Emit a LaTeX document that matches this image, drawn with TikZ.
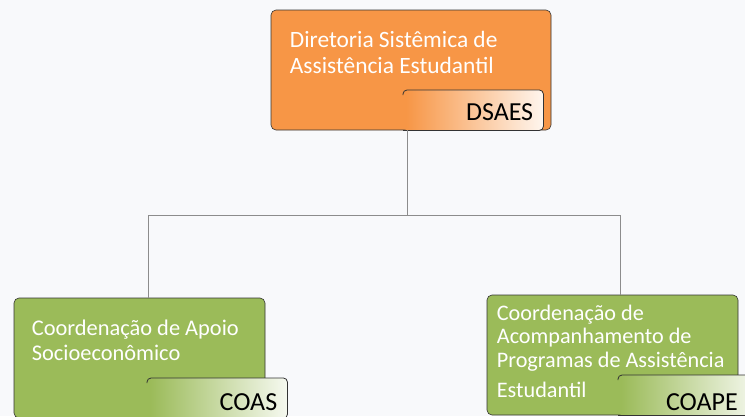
\documentclass[tikz,border=0pt]{standalone}
\usepackage{fontspec}
\setmainfont{Carlito}
\usetikzlibrary{positioning}

\definecolor{bgpaper}{HTML}{F8F9FB}
\definecolor{dsaesorange}{HTML}{F79646}
\definecolor{coordgreen}{HTML}{9BBB59}
\definecolor{linkgrey}{HTML}{8C8C8C}

% gradients of the code tags
\pgfdeclarehorizontalshading{orangetag}{100bp}{color(0bp)=(dsaesorange); color(26bp)=(dsaesorange); color(80bp)=(white); color(100bp)=(white)}
\pgfdeclarehorizontalshading{greentag}{100bp}{color(0bp)=(coordgreen); color(26bp)=(coordgreen); color(80bp)=(white); color(100bp)=(white)}

\tikzset{
	unitbox/.style={draw=black!80, line width=0.6pt, rounded corners=5pt,
		minimum height=120pt, inner sep=0pt},
	tagbox/.style={minimum width=140pt, minimum height=40pt, inner sep=0pt,
		rounded corners=4pt, anchor=north west, shade},
	tagline/.style={draw=black!80, line width=0.8pt, rounded corners=4pt},
	tagtext/.style={font=\fontsize{26}{26}\selectfont, text=black,
		anchor=base east, inner sep=0pt},
	boxtext/.style={text=white, align=left, anchor=north west, inner sep=0pt},
	link/.style={draw=linkgrey, line width=0.8pt}
}

\begin{document}
\begin{tikzpicture}[x=1pt,y=-1pt]
	\useasboundingbox (0,0) rectangle (745,416);
	\clip (0,0) rectangle (745,416);
	\fill[bgpaper] (0,0) rectangle (745,416);

	% units
	\node[unitbox, fill=dsaesorange, minimum width=280pt] (dsaes) at (411,70) {};
	\node[unitbox, fill=coordgreen, minimum width=251pt] (coas) at (139.5,358) {};
	\node[unitbox, fill=coordgreen, minimum width=251pt] (coape) at (612.5,355) {};

	% tags
	\node[tagbox, shading=orangetag] (dsaestag) at (403,90) {};
	\node[tagbox, shading=greentag] (coastag) at (147,378) {};
	\node[tagbox, shading=greentag] (coapetag) at (618,375) {};
	\foreach \t in {dsaestag,coastag,coapetag}
		\draw[tagline] ([yshift=-5pt]\t.north west) |- (\t.north east)
			-- (\t.south east) -- (\t.south west);

	\node[tagtext] (dsaeslabel) at ([xshift=-10pt,yshift=10pt]dsaestag.south east) {DSAES};
	\node[tagtext] (coaslabel) at ([xshift=-10pt,yshift=8pt]coastag.south east) {COAS};
	\node[tagtext] (coapelabel) at ([xshift=120pt,yshift=5pt]coapetag.south west) {COAPE};

	% names
	\node[boxtext, font=\fontsize{23.4}{26}\selectfont] (dsaesname)
		at ([xshift=19pt,yshift=-21.8pt]dsaes.north west)
		{Diretoria Sistêmica de\\Assistência Estudantil};
	\node[boxtext, font=\fontsize{22.4}{25}\selectfont] (coasname)
		at ([xshift=18pt,yshift=-21.6pt]coas.north west)
		{Coordenação de Apoio\\Socioeconômico};
	\node[boxtext, font=\fontsize{22.2}{23.5}\selectfont] (coapename)
		at ([xshift=10pt,yshift=-9.7pt]coape.north west)
		{Coordenação de\\Acompanhamento de\\Programas de Assistência\\[6.5pt]Estudantil};

	% links
	\draw[link] ([xshift=-4pt]dsaes.south) -- ++(0,85) coordinate (fork);
	\draw[link] (fork) -| ([xshift=8.5pt]coas.north);
	\draw[link] (fork) -| ([xshift=7.5pt]coape.north);
\end{tikzpicture}
\end{document}
